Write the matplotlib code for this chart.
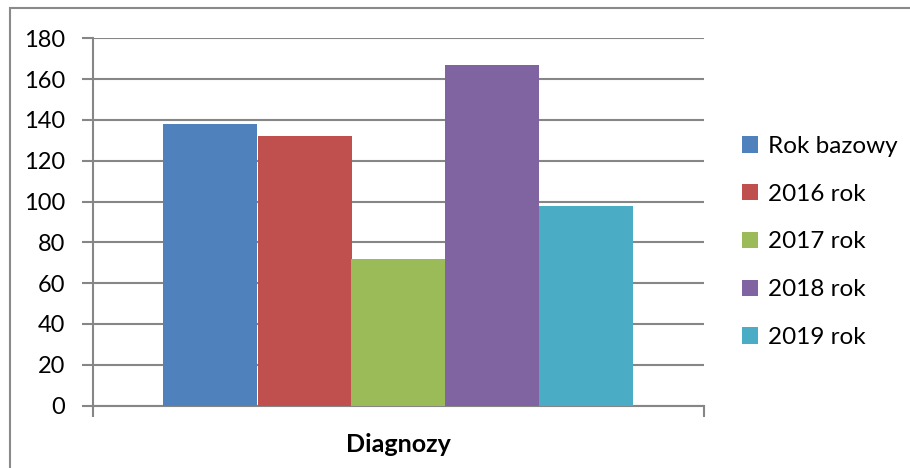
import matplotlib
matplotlib.use("Agg")
import matplotlib.pyplot as plt
from matplotlib.patches import Rectangle

category = "Diagnozy"
series = ["Rok bazowy", "2016 rok", "2017 rok", "2018 rok", "2019 rok"]
values = [138, 132, 72, 167, 98]
colors = ["#4F81BD", "#C0504D", "#9BBB59", "#8064A2", "#4BACC6"]
yticks = [0, 20, 40, 60, 80, 100, 120, 140, 160, 180]

plt.rcParams['font.family'] = ['Lato', 'DejaVu Sans']

W, H = 910, 468
fig = plt.figure(figsize=(W / 100, H / 100), dpi=100)
fig.patch.set_facecolor("white")

# outer chart border
fig.add_artist(Rectangle((10 / W, -0.1), 1.2, (H - 8) / H + 0.1,
                         transform=fig.transFigure, fill=False,
                         edgecolor="#8a8a8a", linewidth=1.5))

ax = fig.add_axes([93 / W, 1 - 405.5 / H, (704 - 93) / W, (405.5 - 38.3) / H])

gray = "#868686"
bw = 94 / 611
n = len(values)
for i, (s, v, c) in enumerate(zip(series, values, colors)):
    ax.bar((i - (n - 1) / 2) * bw, v, width=bw, color=c, label=s, zorder=3)

ax.set_xlim(-0.5, 0.5)
ax.set_ylim(0, 180)
ax.set_yticks(yticks)
ax.set_yticklabels([str(t) for t in yticks], fontsize=17)
ax.yaxis.grid(True, color=gray, linewidth=1.5, zorder=0)
ax.set_axisbelow(True)

ax.set_xticks([-0.5, 0.5])
ax.set_xticklabels(["", ""])
ax.tick_params(axis="both", direction="out", length=8, width=1.5, color=gray)
ax.tick_params(axis="y", pad=12)

for side in ["top", "right"]:
    ax.spines[side].set_visible(False)
for side in ["left", "bottom"]:
    ax.spines[side].set_color(gray)
    ax.spines[side].set_linewidth(1.5)

ax.set_xlabel(category, fontsize=18, fontweight="bold", labelpad=8)

fig.legend(loc="upper left", bbox_to_anchor=(742 / W, 1 - 136 / H),
           frameon=False, fontsize=17.5, handlelength=0.65, handleheight=0.65,
           handletextpad=0.4, labelspacing=1.1, borderaxespad=0,
           borderpad=0)

fig.savefig("out.png", dpi=100, facecolor="white")
